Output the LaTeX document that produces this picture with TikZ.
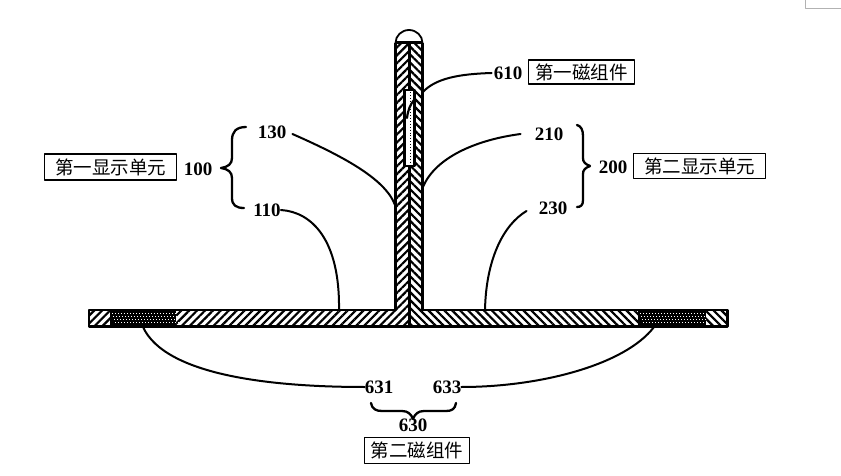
\documentclass[tikz,border=0pt]{standalone}
\usepackage{fontspec}
\setmainfont{Liberation Serif}
\newfontfamily\cjkfont{Noto Sans CJK SC}
\usetikzlibrary{patterns.meta}
\tikzset{
  every picture/.style={line join=round},
  numlabel/.style={font=\fontsize{19}{20}\selectfont\bfseries, inner sep=0pt},
  namebox/.style={draw, line width=1.7pt, font=\fontsize{18.5}{20}\cjkfont, inner sep=0pt, anchor=center, fill=white},
  leader/.style={line width=2pt, line cap=round},
  bracepath/.style={line width=2.3pt, line cap=round},
  outline/.style={line width=2.6pt},
  hatchleft/.style={pattern={Lines[angle=45,distance=5.6pt,line width=2.2pt]}},
  hatchright/.style={pattern={Lines[angle=-45,distance=5.6pt,line width=2.2pt]}},
}
\begin{document}
\begin{tikzpicture}[x=1pt,y=-1pt]
\useasboundingbox (0,0) rectangle (841,476);
% corner trace
\draw[black!30,line width=0.7pt] (805,0) -- (805,8) -- (841,8);
% hatching of the T-shaped body
\path[hatchleft] (396,43) -- (409,43) -- (409,326) -- (89,326) -- (89,311) -- (396,311) -- cycle;
\path[hatchright] (409,43) -- (422,43) -- (422,311) -- (727,311) -- (727,326) -- (409,326) -- cycle;
% magnets in the base
\fill[black] (110,311) rectangle (176,325);
\fill[black] (638,311) rectangle (706,325);
\foreach \r/\yy in {0/313,1/316,2/319,3/322}{
  \foreach \i in {0,...,21}{
    \fill[white] ({112+\i*3+\r},\yy) rectangle ++(1.4,1);
    \fill[white] ({640+\i*3+\r},\yy) rectangle ++(1.4,1);
  }
}
% body outline
\draw[outline] (395.5,43) -- (395.5,310) -- (89,310) -- (89,326.5) -- (727.5,326.5) -- (727.5,310) -- (422.5,310) -- (422.5,43);
\draw[line width=3pt] (395,43) -- (423,43);
\draw[line width=3pt] (409,43) -- (409,326);
\draw[line width=1.8pt] (395.5,43) arc[start angle=180,end angle=360,x radius=13.5,y radius=13];
% white insert
\draw[line width=2.4pt,fill=white] (404.5,90) rectangle (414.5,166);
\draw[line width=0.9pt,dotted] (410,92) -- (410,164);
% labels
\node[numlabel] (n130) at (272,132) {130};
\node[numlabel] (n110) at (267,210) {110};
\node[numlabel] (n210) at (549,134) {210};
\node[numlabel] (n230) at (553,208) {230};
\node[numlabel] (n610) at (508,73) {610};
\node[numlabel] (n100) at (198,169) {100};
\node[numlabel] (n200) at (613,167) {200};
\node[numlabel] (n631) at (379,387) {631};
\node[numlabel] (n633) at (447,387) {633};
\node[numlabel] (n630) at (413,425) {630};
\node[namebox,minimum width=132pt,minimum height=26pt] (b1) at (110.5,167) {第一显示单元};
\node[namebox,minimum width=132pt,minimum height=25pt] (b2) at (699.5,166) {第二显示单元};
\node[namebox,minimum width=106pt,minimum height=24pt] (m1) at (581.5,72) {第一磁组件};
\node[namebox,minimum width=105pt,minimum height=26pt] (m2) at (417,450.5) {第二磁组件};
% anchor points on the body
\coordinate (p130) at (395,205);
\coordinate (p110) at (339,310);
\coordinate (p210) at (423,187);
\coordinate (p230) at (485,310);
\coordinate (p610) at (422,93);
\coordinate (p610b) at (407,118);
\coordinate (p631) at (143,327);
\coordinate (p633) at (654,327);
% leaders
\draw[leader] (n130.east)++(6,2) .. controls (340,155) and (385,178) .. (p130);
\draw[leader] (n110.east) .. controls (312,212) and (340,240) .. (p110);
\draw[leader] (n210.west)++(-14,0) .. controls (475,140) and (435,158) .. (p210);
\draw[leader] (n230.west)++(-12,3) .. controls (503,225) and (486,260) .. (p230);
\draw[leader] (n610.west)++(-2,0) .. controls (460,74) and (435,78) .. (p610);
\draw[line width=2.2pt,line cap=round] (414,100) .. controls (410,105) and (408,110) .. (p610b);
\draw[leader] (p631) .. controls (165,375) and (270,387) .. (n631.west);
\draw[leader] (n633.east) .. controls (540,387) and (625,365) .. (p633);
% braces
\draw[bracepath] (246,127) .. controls (236,127) and (232,132) .. (232,140) -- (232,158) .. controls (232,164) and (228,167) .. (221,168) .. controls (228,169) and (232,172) .. (232,178) -- (232,198) .. controls (232,205) and (236,208) .. (244,208);
\draw[bracepath] (577,125) .. controls (581,126) and (583,130) .. (583,136) -- (583,158) .. controls (583,162) and (585,164) .. (590,166) .. controls (585,168) and (583,170) .. (583,174) -- (583,200) .. controls (583,205) and (581,207) .. (577,207);
\draw[bracepath] (371,403) .. controls (372,409) and (376,411) .. (382,411) -- (402,411) .. controls (408,411) and (411,414) .. (413,419) .. controls (415,414) and (418,411) .. (424,411) -- (446,411) .. controls (452,411) and (455,409) .. (456,403);
\end{tikzpicture}
\end{document}
